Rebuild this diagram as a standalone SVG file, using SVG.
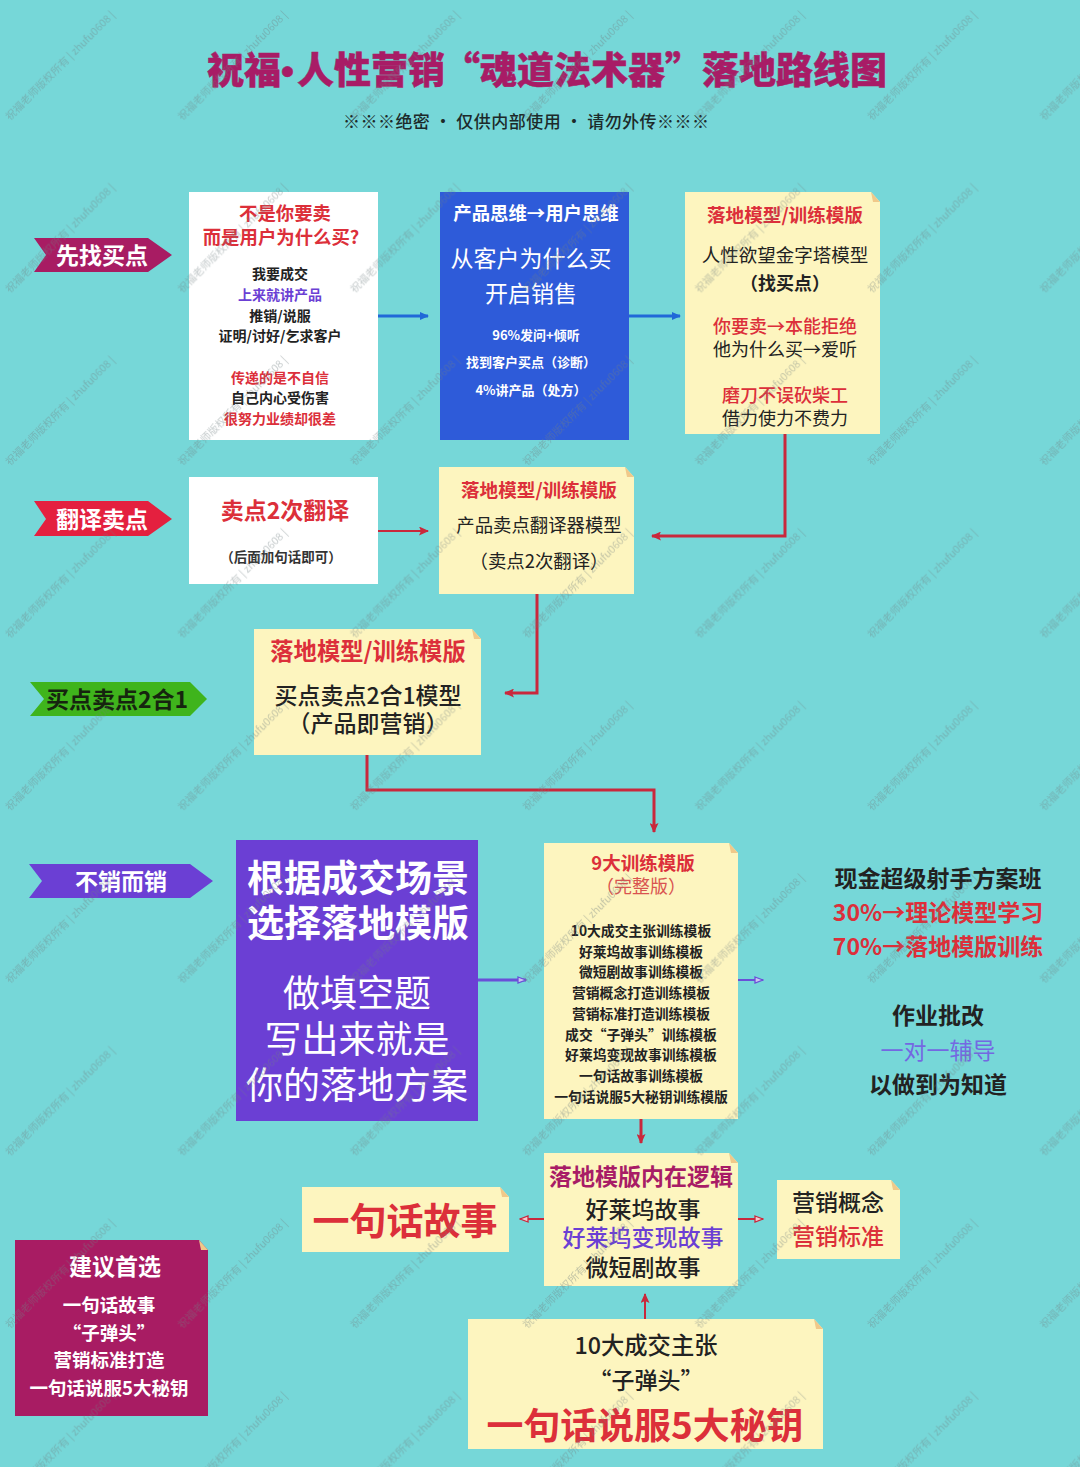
<svg xmlns="http://www.w3.org/2000/svg" width="1080" height="1467" viewBox="0 0 1080 1467">
<style>
text{font-family:"Noto Sans CJK SC","Noto Sans",sans-serif;text-anchor:middle}
.b{font-weight:700}.m{font-weight:500}.n{font-weight:400}
.red{fill:#dc2f3a}.blk{fill:#222}.wht{fill:#fff}.pur{fill:#6b3fd4}
.note{fill:#fdf5bf}.fold{fill:#f0c98a}
.c{fill:none;stroke-width:3}
.t{stroke-width:2}
.cr{stroke:#c9283c}.cb{stroke:#2168d8}.cp{stroke:#6a4fd8}
.wm{font-size:10.6px;fill:#6f7f80;fill-opacity:.42;text-anchor:start}
.ttl{font-size:37px;font-weight:900;fill:#a81c66;stroke:#a81c66;stroke-width:.5;text-anchor:start}
</style>
<defs>
<marker id="ab" markerWidth="9" markerHeight="8" refX="8" refY="4" orient="auto" markerUnits="userSpaceOnUse"><path d="M0,0L9,4L0,8Z" fill="#2168d8"/></marker>
<marker id="ar" markerWidth="10" markerHeight="9" refX="9" refY="4.5" orient="auto" markerUnits="userSpaceOnUse"><path d="M0,0L10,4.5L0,9L2,4.5Z" fill="#c9283c"/></marker>
<marker id="ap" markerWidth="10" markerHeight="8" refX="9" refY="4" orient="auto" markerUnits="userSpaceOnUse"><path d="M1,1L9,4L1,7Z" fill="#c9c4f0" stroke="#6a4fd8" stroke-width="1.3"/></marker>
<marker id="ao" markerWidth="10" markerHeight="8" refX="9" refY="4" orient="auto" markerUnits="userSpaceOnUse"><path d="M1,1L9,4L1,7Z" fill="#f5c9d0" stroke="#c9283c" stroke-width="1.3"/></marker>
<pattern id="wmp" width="172.4" height="172.6" patternUnits="userSpaceOnUse">
<text class="wm" transform="translate(10,121) rotate(-45)">祝福老师版权所有 | zhufu0608 |</text>
</pattern>
</defs>
<rect id="bg" width="1080" height="1467" fill="#76d7d8"/>

<g id="title">
<text class="ttl" y="84"><tspan x="207">祝福</tspan><tspan x="281" font-family="Liberation Sans">•</tspan><tspan x="297">人性营销</tspan><tspan x="443">“</tspan><tspan x="480">魂道法术器</tspan><tspan x="665">”</tspan><tspan x="702">落地路线图</tspan></text>
<text class="m" x="526" y="128" font-size="17" fill="#1c2a2a" textLength="366" lengthAdjust="spacing"><tspan font-weight="900">※※※</tspan>绝密 • 仅供内部使用 • 请勿外传<tspan font-weight="900">※※※</tspan></text>
</g>

<g id="connectors">
<path class="c cb" d="M378,316H428" marker-end="url(#ab)"/>
<path class="c cb" d="M629,316H680" marker-end="url(#ab)"/>
<path class="c cr t" d="M378,531H428" marker-end="url(#ar)"/>
<path class="c cr" d="M785,434V536H652" marker-end="url(#ar)"/>
<path class="c cr" d="M537,594V693H505" marker-end="url(#ar)"/>
<path class="c cr" d="M367,755V790H654V832" marker-end="url(#ar)"/>
<path class="c cp" d="M478,980H526" marker-end="url(#ap)"/>
<path class="c cp t" d="M738,980H763" marker-end="url(#ap)"/>
<path class="c cr" d="M641,1119V1143" marker-end="url(#ar)"/>
<path class="c cr t" d="M544,1219H520" marker-end="url(#ao)"/>
<path class="c cr t" d="M738,1219H763" marker-end="url(#ao)"/>
<path class="c cr t" d="M645,1319V1294" marker-end="url(#ar)"/>
</g>

<g id="ribbon1"><path d="M34,238H148L172,255L148,272H34L46,255Z" fill="#a81c63"/><text class="b wht" x="102" y="264" font-size="23">先找买点</text></g>
<g id="ribbon2"><path d="M34,501H148L172,519L148,536H34L46,519Z" fill="#e4203f"/><text class="b wht" x="102" y="528" font-size="23">翻译卖点</text></g>
<g id="ribbon3"><path d="M30,682H190L207,699L190,716H30L44,699Z" fill="#3fb41c"/><text class="b" fill="#16240f" x="117" y="708" font-size="23">买点卖点2合1</text></g>
<g id="ribbon4"><path d="M29,864H190L213,881L190,898H29L42,881Z" fill="#6b3fd4"/><text class="b wht" x="121" y="890" font-size="23">不销而销</text></g>

<g id="n-why">
<rect x="189" y="192" width="189" height="248" fill="#fff"/>
<text class="b red" x="285" y="220" font-size="18.4">不是你要卖</text>
<text class="b red" x="281" y="244" font-size="18.4">而是用户为什么买?</text>
<g class="b" font-size="14">
<text class="blk" x="280" y="279">我要成交</text>
<text class="pur" x="280" y="300">上来就讲产品</text>
<text class="blk" x="280" y="321">推销/说服</text>
<text class="blk" x="280" y="341">证明/讨好/乞求客户</text>
<text class="red" x="280" y="383">传递的是不自信</text>
<text class="blk" x="280" y="403">自己内心受伤害</text>
<text class="red" x="280" y="424">很努力业绩却很差</text>
</g>
</g>

<g id="n-think">
<rect x="440" y="192" width="189" height="248" fill="#2e5bd9"/>
<text class="b wht" x="536" y="220" font-size="18.4">产品思维→用户思维</text>
<text class="n wht" x="531" y="267" font-size="23">从客户为什么买</text>
<text class="n wht" x="531" y="302" font-size="23">开启销售</text>
<g class="b wht" font-size="13">
<text x="536" y="340">96%发问+倾听</text>
<text x="531" y="367">找到客户买点（诊断）</text>
<text x="531" y="395">4%讲产品（处方）</text>
</g>
</g>

<g id="n-pyramid">
<path class="note" d="M685,192H871L880,202V434H685Z"/><path class="fold" d="M871,192L880,202H873Z"/>
<text class="b red" x="785" y="222" font-size="18.6">落地模型/训练模版</text>
<text class="n blk" x="785" y="262" font-size="18.5">人性欲望金字塔模型</text>
<text class="b blk" x="785" y="290" font-size="18">（找买点）</text>
<text class="m red" x="785" y="333" font-size="18">你要卖→本能拒绝</text>
<text class="n blk" x="785" y="356" font-size="18">他为什么买→爱听</text>
<text class="m red" x="785" y="402" font-size="18">磨刀不误砍柴工</text>
<text class="n blk" x="785" y="425" font-size="18">借力使力不费力</text>
</g>

<g id="n-translate">
<rect x="189" y="477" width="189" height="107" fill="#fff"/>
<text class="b red" x="285" y="519" font-size="23">卖点2次翻译</text>
<text class="b" fill="#333" x="281" y="562" font-size="13.5">（后面加句话即可）</text>
</g>

<g id="n-translator">
<path class="note" d="M439,467H625L634,477V594H439Z"/><path class="fold" d="M625,467L634,477H627Z"/>
<text class="b red" x="539" y="497" font-size="18.6">落地模型/训练模版</text>
<text class="n blk" x="539" y="532" font-size="18.4">产品卖点翻译器模型</text>
<text class="n blk" x="539" y="568" font-size="18.4">（卖点2次翻译）</text>
</g>

<g id="n-merge">
<path class="note" d="M254,629H472L481,639V755H254Z"/><path class="fold" d="M472,629L481,639H474Z"/>
<text class="b red" x="368" y="660" font-size="23.3">落地模型/训练模版</text>
<text class="m blk" x="368" y="704" font-size="23">买点卖点2合1模型</text>
<text class="m blk" x="368" y="732" font-size="23">（产品即营销）</text>
</g>

<g id="n-choose">
<rect x="236" y="840" width="242" height="281" fill="#6b3fd4"/>
<text class="b wht" font-size="37"><tspan x="358" y="892">根据成交场景</tspan><tspan x="358" y="937">选择落地模版</tspan></text>
<text class="n wht" font-size="37"><tspan x="357" y="1007">做填空题</tspan><tspan x="357" y="1053">写出来就是</tspan><tspan x="357" y="1099">你的落地方案</tspan></text>
</g>

<g id="n-templates">
<path class="note" d="M544,843H729L738,853V1119H544Z"/><path class="fold" d="M729,843L738,853H731Z"/>
<text class="b red" x="643" y="870" font-size="18.5">9大训练模版</text>
<text class="n" fill="#d9534f" x="641" y="893" font-size="18">（完整版）</text>
<g class="b blk" font-size="13.8">
<text x="641" y="936">10大成交主张训练模板</text>
<text x="641" y="957">好莱坞故事训练模板</text>
<text x="641" y="977">微短剧故事训练模板</text>
<text x="641" y="998">营销概念打造训练模板</text>
<text x="641" y="1019">营销标准打造训练模板</text>
<text x="641" y="1040">成交“子弹头”训练模板</text>
<text x="641" y="1060">好莱坞变现故事训练模板</text>
<text x="641" y="1081">一句话故事训练模板</text>
<text x="641" y="1102">一句话说服5大秘钥训练模版</text>
</g>
</g>

<g id="n-logic">
<path class="note" d="M544,1153H729L738,1163V1286H544Z"/><path class="fold" d="M729,1153L738,1163H731Z"/>
<text class="b" fill="#a81c66" x="641" y="1185" font-size="23">落地模版内在逻辑</text>
<text class="m blk" x="643" y="1218" font-size="23">好莱坞故事</text>
<text class="m pur" x="643" y="1246" font-size="23">好莱坞变现故事</text>
<text class="m blk" x="643" y="1276" font-size="23">微短剧故事</text>
</g>

<g id="n-story">
<path class="note" d="M302,1187H500L509,1197V1252H302Z"/><path class="fold" d="M500,1187L509,1197H502Z"/>
<text class="b red" x="405" y="1235" font-size="37">一句话故事</text>
</g>

<g id="n-concept">
<path class="note" d="M777,1180H891L900,1190V1259H777Z"/><path class="fold" d="M891,1180L900,1190H893Z"/>
<text class="m blk" x="838" y="1211" font-size="23">营销概念</text>
<text class="m red" x="838" y="1245" font-size="23">营销标准</text>
</g>

<g id="n-claims">
<path class="note" d="M468,1319H814L823,1329V1449H468Z"/><path class="fold" d="M814,1319L823,1329H816Z"/>
<text class="m blk" x="646" y="1354" font-size="23.3">10大成交主张</text>
<text class="m blk" x="646" y="1389" font-size="23">“子弹头”</text>
<text class="b red" x="645" y="1439" font-size="36.9">一句话说服5大秘钥</text>
</g>

<g id="n-suggest">
<path d="M15,1240H199L208,1250V1416H15Z" fill="#a81c63"/><path class="fold" d="M199,1240L208,1250H201Z"/>
<text class="b wht" x="115" y="1275" font-size="23">建议首选</text>
<g class="b wht" font-size="18.5">
<text x="109" y="1312">一句话故事</text>
<text x="109" y="1340">“子弹头”</text>
<text x="109" y="1367">营销标准打造</text>
<text x="109" y="1395">一句话说服5大秘钥</text>
</g>
</g>

<g id="n-class">
<text class="b blk" x="938" y="887" font-size="23">现金超级射手方案班</text>
<text class="b red" x="938" y="921" font-size="23">30%→理论模型学习</text>
<text class="b red" x="938" y="955" font-size="23">70%→落地模版训练</text>
<text class="b blk" x="938" y="1024" font-size="23">作业批改</text>
<text class="n" fill="#7468e2" x="938" y="1059" font-size="23">一对一辅导</text>
<text class="b blk" x="938" y="1093" font-size="23">以做到为知道</text>
</g>

<rect id="watermark" width="1080" height="1467" fill="url(#wmp)"/>
</svg>
